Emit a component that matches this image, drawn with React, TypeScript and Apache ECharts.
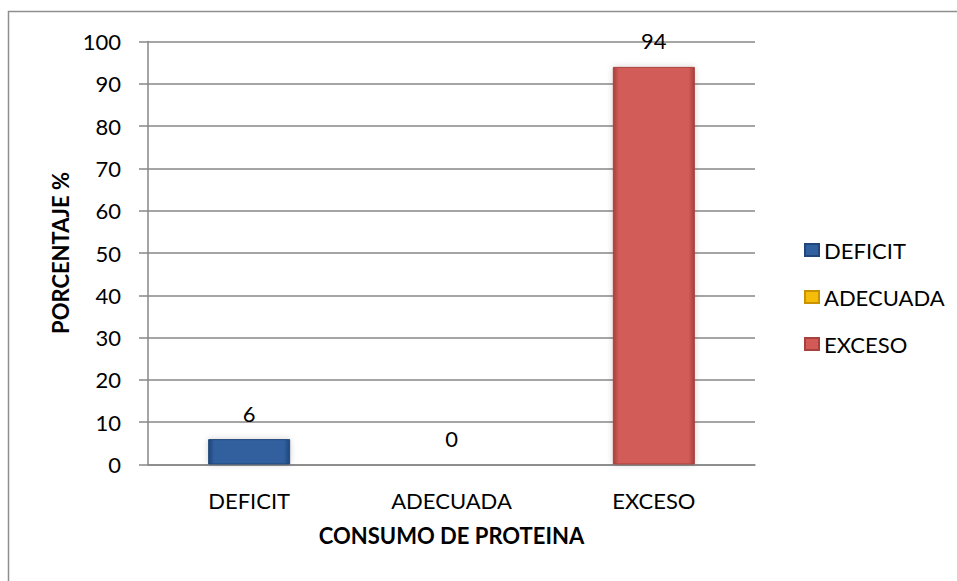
import React, { useEffect, useRef } from "react";
import * as echarts from "echarts";

// Protein intake categories and their share of the sample (%)
const categories = ["DEFICIT", "ADECUADA", "EXCESO"];
const values = [6, 0, 94];
const yMin = 0;
const yMax = 100;
const yStep = 10;

const xTitle = "CONSUMO DE PROTEINA";
const yTitle = "PORCENTAJE %";

// Base colour, darker edge colour for each category
const palette = [
  { base: "#30609F", edge: "#214679" },
  { base: "#F5BC0A", edge: "#C99300" },
  { base: "#D25B58", edge: "#A8403D" },
];

const FONT = "Lato, 'Open Sans', sans-serif";
const GRID_GRAY = "#878787";

function bevel(base: string, edge: string) {
  return new echarts.graphic.LinearGradient(0, 0, 1, 0, [
    { offset: 0, color: edge },
    { offset: 0.07, color: base },
    { offset: 0.93, color: base },
    { offset: 1, color: edge },
  ]);
}

export default function App() {
  const ref = useRef<HTMLDivElement>(null);

  useEffect(() => {
    if (!ref.current) return;
    const chart = echarts.init(ref.current, undefined, { renderer: "svg" });

    const series = categories.map((name, i) => ({
      name,
      type: "bar" as const,
      data: values.map((v, j) => (j === i ? v : "-")),
      barWidth: 82,
      barGap: "-100%",
      itemStyle: {
        color: bevel(palette[i].base, palette[i].edge),
        borderColor: palette[i].edge,
        borderWidth: 1,
        shadowColor: "rgba(0,0,0,0.18)",
        shadowBlur: 6,
      },
      label: {
        show: true,
        position: "top" as const,
        distance: 15,
        fontSize: 22,
        fontFamily: FONT,
        color: "#000",
      },
    }));

    chart.setOption({
      animation: false,
      backgroundColor: "#fff",
      graphic: [
        {
          type: "rect",
          shape: { x: 8.5, y: 11.5, width: 1000, height: 1000 },
          style: { fill: "none", stroke: "#8f8f8f", lineWidth: 1.5 },
          silent: true,
        },
      ],
      grid: { left: 148, right: 202, top: 41.5, bottom: 116.5, containLabel: false },
      legend: {
        orient: "vertical",
        left: 799,
        top: 234,
        itemWidth: 14,
        itemHeight: 12,
        itemGap: 25,
        icon: "rect",
        data: categories,
        textStyle: {
          fontSize: 22,
          fontFamily: FONT,
          color: "#000",
          padding: [0, 0, 10, 0],
        },
      },
      xAxis: {
        type: "category",
        data: categories,
        name: xTitle,
        nameLocation: "middle",
        nameGap: 60,
        nameTextStyle: { fontSize: 22, fontWeight: "bold", fontFamily: FONT, color: "#000" },
        axisLine: { lineStyle: { color: GRID_GRAY, width: 1.5 } },
        axisTick: { show: false },
        axisLabel: { fontSize: 22, fontFamily: FONT, color: "#000", margin: 25 },
      },
      yAxis: {
        type: "value",
        min: yMin,
        max: yMax,
        interval: yStep,
        name: yTitle,
        nameLocation: "middle",
        nameGap: 59,
        nameTextStyle: { fontSize: 22, fontWeight: "bold", fontFamily: FONT, color: "#000" },
        axisLine: { show: true, lineStyle: { color: GRID_GRAY, width: 1.5 } },
        axisTick: { show: true, length: 9, lineStyle: { color: GRID_GRAY, width: 1.5 } },
        axisLabel: { fontSize: 22, fontFamily: FONT, color: "#000", margin: 27 },
        splitLine: { show: true, lineStyle: { color: GRID_GRAY, width: 1.5 } },
      },
      series,
    });

    return () => chart.dispose();
  }, []);

  return (
    <div
      ref={ref}
      style={{ position: "fixed", left: 0, top: 0, width: 957, height: 581, background: "#fff" }}
    />
  );
}
